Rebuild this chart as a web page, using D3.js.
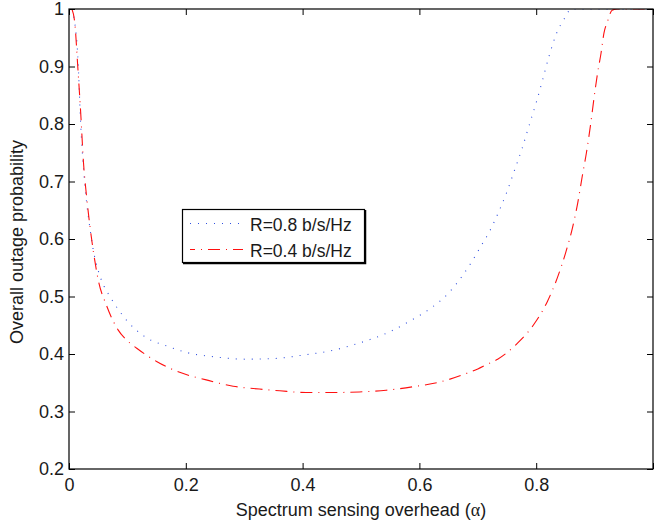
<!DOCTYPE html>
<html>
<head>
<meta charset="utf-8">
<script src="https://cdn.jsdelivr.net/npm/d3@7"></script>
<style>
  body { margin: 0; background: #fff; }
  text { font-family: "Liberation Sans", Arial, sans-serif; fill: #1a1a1a; }
</style>
</head>
<body>
<div class="chart"></div>
<script>
// dati
const xTicks = [0, 0.2, 0.4, 0.6, 0.8, 1];
const xTickLabels = ["0", "0.2", "0.4", "0.6", "0.8", ""]; // "1" esce dal bordo nell'originale
const yTicks = [0.2, 0.3, 0.4, 0.5, 0.6, 0.7, 0.8, 0.9, 1];
const yTickLabels = ["0.2", "0.3", "0.4", "0.5", "0.6", "0.7", "0.8", "0.9", "1"];
const seriesNames = ["R=0.8 b/s/Hz", "R=0.4 b/s/Hz"];

// R=0.8
const alpha08 = [0.005, 0.01, 0.015, 0.02, 0.025, 0.03, 0.035, 0.04, 0.05, 0.06, 0.07, 0.08, 0.10, 0.13, 0.17, 0.20, 0.25, 0.30, 0.35, 0.40, 0.45, 0.50, 0.55, 0.583, 0.62, 0.65, 0.675, 0.69, 0.705, 0.72, 0.737, 0.748, 0.762, 0.776, 0.788, 0.80, 0.811, 0.822, 0.835, 0.848, 0.86, 0.9, 1.0];
const outage08 = [1.0, 0.975, 0.92, 0.80, 0.72, 0.665, 0.625, 0.59, 0.545, 0.518, 0.50, 0.484, 0.457, 0.430, 0.413, 0.403, 0.395, 0.391, 0.392, 0.398, 0.406, 0.420, 0.439, 0.457, 0.480, 0.506, 0.538, 0.561, 0.587, 0.613, 0.650, 0.677, 0.717, 0.758, 0.798, 0.837, 0.877, 0.918, 0.958, 0.983, 1.0, 1.0, 1.0];

// R=0.4
const alpha04 = [0.005, 0.01, 0.015, 0.02, 0.025, 0.03, 0.036, 0.043, 0.05, 0.064, 0.084, 0.10, 0.116, 0.15, 0.187, 0.235, 0.281, 0.326, 0.361, 0.406, 0.452, 0.497, 0.543, 0.589, 0.634, 0.68, 0.70, 0.72, 0.734, 0.768, 0.797, 0.819, 0.836, 0.851, 0.862, 0.871, 0.879, 0.886, 0.893, 0.899, 0.905, 0.911, 0.916, 0.922, 0.93, 0.94, 1.0];
const outage04 = [1.0, 0.975, 0.90, 0.82, 0.73, 0.675, 0.621, 0.57, 0.529, 0.485, 0.442, 0.423, 0.410, 0.387, 0.369, 0.355, 0.344, 0.339, 0.336, 0.333, 0.333, 0.334, 0.337, 0.343, 0.351, 0.366, 0.374, 0.384, 0.391, 0.419, 0.453, 0.491, 0.532, 0.578, 0.619, 0.662, 0.710, 0.750, 0.798, 0.845, 0.888, 0.923, 0.958, 0.978, 0.998, 1.0, 1.0];

// Imposta le dimensioni
const W = 654, H = 523;
const pl = 69, pr = 653, pt = 9, pb = 469;

const svg = d3.select('.chart')
    .append('svg')
    .attr('width', W)
    .attr('height', H);

const x = d3.scaleLinear().domain([0, 1]).range([pl, pr]);
const y = d3.scaleLinear().domain([0.2, 1]).range([pb, pt]);

svg.append('defs').append('clipPath')
    .attr('id', 'plot-clip')
    .append('rect')
    .attr('x', pl).attr('y', pt)
    .attr('width', pr - pl).attr('height', pb - pt);

// curve
const line = d3.line().x(d => x(d[0])).y(d => y(d[1])).curve(d3.curveMonotoneX);
const series = [
    { xs: alpha08, ys: outage08, color: '#2f4fe0', dash: '1,7' },
    { xs: alpha04, ys: outage04, color: '#ff1010', dash: '12,6,1,6' }
];

const plot = svg.append('g').attr('clip-path', 'url(#plot-clip)');
series.forEach(s => {
    plot.append('path')
        .datum(s.xs.map((v, i) => [v, s.ys[i]]))
        .attr('fill', 'none')
        .attr('stroke', s.color)
        .attr('stroke-width', 1.1)
        .attr('stroke-dasharray', s.dash)
        .attr('d', line);
});

// assi
const fmtX = d => xTickLabels[xTicks.indexOf(d)];
const fmtY = d => yTickLabels[yTicks.indexOf(d)];

function styleAxis(g) {
    g.select('.domain').remove();
    g.selectAll('line').attr('stroke', '#000');
    g.selectAll('text').style('font-family', '"Liberation Sans", Arial, sans-serif')
        .style('font-size', '18px').attr('fill', '#1a1a1a');
}

svg.append('g')
    .attr('transform', `translate(0,${pb})`)
    .call(d3.axisBottom(x).tickValues(xTicks).tickFormat(fmtX).tickSize(-6).tickPadding(9.5))
    .call(styleAxis);
svg.append('g')
    .attr('transform', `translate(0,${pt})`)
    .call(d3.axisTop(x).tickValues(xTicks).tickFormat('').tickSize(-6))
    .call(styleAxis);
svg.append('g')
    .attr('transform', `translate(${pl},0)`)
    .call(d3.axisLeft(y).tickValues(yTicks).tickFormat(fmtY).tickSize(-6).tickPadding(5))
    .call(styleAxis);
svg.append('g')
    .attr('transform', `translate(${pr},0)`)
    .call(d3.axisRight(y).tickValues(yTicks).tickFormat('').tickSize(-6))
    .call(styleAxis);

svg.append('rect')
    .attr('x', pl).attr('y', pt)
    .attr('width', pr - pl).attr('height', pb - pt)
    .attr('fill', 'none').attr('stroke', '#000').attr('stroke-width', 1.2);

// etichette
const xl = svg.append('text')
    .attr('x', (pl + pr) / 2).attr('y', 516)
    .attr('text-anchor', 'middle')
    .style('font-size', '18px');
xl.append('tspan').text('Spectrum sensing overhead (');
xl.append('tspan').style('font-family', '"Liberation Serif", serif').text('α');
xl.append('tspan').text(')');

svg.append('text')
    .attr('transform', `translate(23,${(pt + pb) / 2 + 3}) rotate(-90)`)
    .attr('text-anchor', 'middle')
    .style('font-size', '18px')
    .text('Overall outage probability');

// legenda
const lg = svg.append('g');
lg.append('rect')
    .attr('x', 182.5).attr('y', 209.5).attr('width', 182).attr('height', 53)
    .attr('fill', '#fff').attr('stroke', '#000').attr('stroke-width', 1.2);
lg.append('path')
    .attr('d', 'M365.5,210 V263.5 H183')
    .attr('fill', 'none').attr('stroke', '#000').attr('stroke-width', 1.5);
series.forEach((s, i) => {
    const yy = 223.5 + i * 26;
    lg.append('line')
        .attr('x1', 190).attr('x2', 243).attr('y1', yy).attr('y2', yy)
        .attr('stroke', s.color).attr('stroke-width', 1.1)
        .attr('stroke-dasharray', s.dash)
        .attr('stroke-dashoffset', i === 1 ? 7 : 0);
    lg.append('text')
        .attr('x', 250).attr('y', yy + 7.5)
        .style('font-size', '17.5px')
        .text(seriesNames[i]);
});
</script>
</body>
</html>
